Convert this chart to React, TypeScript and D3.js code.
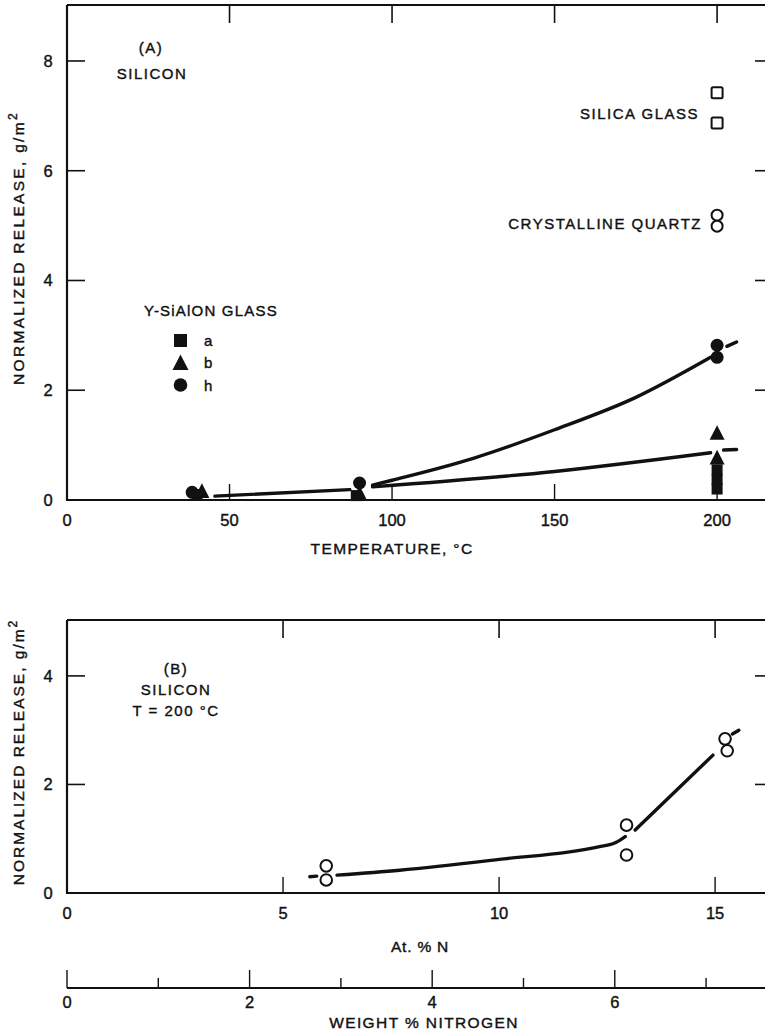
import React from 'react';
import * as d3 from 'd3';

// panel A: temperature series (Y-SiAlON glass a, b, h) and reference glasses
const tempA = [40, 89, 200, 200, 200];
const releaseA = [0.1, 0.08, 0.55, 0.37, 0.2];
const tempB = [41.5, 90, 200, 200];
const releaseB = [0.14, 0.1, 1.2, 0.75];
const tempH = [38.5, 90, 200, 200];
const releaseH = [0.14, 0.31, 2.82, 2.6];
const silicaGlass = [7.42, 6.87];
const quartz = [5.19, 4.99];
const refTemp = 200;

// hand-drawn fit curves, panel A
const curveH = [[94, 0.27], [100, 0.36], [125, 0.76], [150, 1.28], [175, 1.87], [198, 2.6]];
const curveHDash = [[203, 2.8], [206, 2.88]];
const lineLowA = [[45.5, 0.07], [87, 0.19]];
const lineLowB = [[94, 0.24], [150, 0.52], [198, 0.86]];
const lineLowDash = [[202, 0.91], [206, 0.92]];

// panel B: release vs at.% N at 200 C
const atN = [6.0, 6.0, 12.95, 12.95, 15.23, 15.28];
const releaseN = [0.5, 0.24, 1.25, 0.7, 2.84, 2.62];
const curveNDash1 = [[5.62, 0.3], [5.78, 0.31]];
const curveN1 = [[6.25, 0.33], [7.7, 0.42], [10, 0.62], [12.3, 0.85], [12.7, 0.93], [12.92, 1.04]];
const curveN2 = [[13.15, 1.16], [14.95, 2.54]];
const curveNDash2 = [[15.4, 2.93], [15.55, 3.0]];

const ticksTempX = [50, 100, 150, 200];
const labelsTempX = [0, 50, 100, 150, 200];
const ticksRelA = [2, 4, 6, 8];
const labelsRelA = [0, 2, 4, 6, 8];
const ticksN = [5, 10, 15];
const labelsN = [0, 5, 10, 15];
const ticksRelB = [2, 4];
const labelsRelB = [0, 2, 4];
const weightMajor = [0, 2, 4, 6];
const weightMinor = [1, 3, 5, 7];

const W = 765, H = 1033;
const left = 67, right = 773;

const xA = d3.scaleLinear().domain([0, 217.2]).range([left, right]);
const yA = d3.scaleLinear().domain([0, 9.02]).range([500, 5]);
const xB = d3.scaleLinear().domain([0, 16.34]).range([left, right]);
const yB = d3.scaleLinear().domain([0, 5.03]).range([893, 620]);
const xW = d3.scaleLinear().domain([0, 7.733]).range([left, right]);
const wY = 988;

const font = '"Liberation Sans", Arial, Helvetica, sans-serif';
const ink = '#111';

function Frame({ x, y, xt, yt }) {
  const [x0, x1] = x.range();
  const [y0, y1] = y.range();
  return (
    <g stroke={ink} fill="none">
      <path d={`M${x0},${y1}H${x1}M${x0},${y1}V${y0}H${x1}`} strokeWidth={2.2} />
      {xt.map(t => (
        <g key={'x' + t}>
          <line x1={x(t)} x2={x(t)} y1={y1} y2={y1 + 18} strokeWidth={1.6} />
          <line x1={x(t)} x2={x(t)} y1={y0} y2={y0 - 16} strokeWidth={1.4} />
        </g>
      ))}
      {yt.map(t => (
        <g key={'y' + t}>
          <line x1={x0} x2={x0 + 18} y1={y(t)} y2={y(t)} strokeWidth={1.6} />
          <line x1={x1} x2={x1 - 18} y1={y(t)} y2={y(t)} strokeWidth={1.6} />
        </g>
      ))}
    </g>
  );
}

const num = { fontFamily: font, fontSize: 16.5, fill: ink, stroke: ink, strokeWidth: 0.4 };

function Labels({ x, y, xl, yl }) {
  const y0 = y.range()[0];
  return (
    <g {...num}>
      {xl.map(t => (
        <text key={'x' + t} x={x(t)} y={y0 + 26} textAnchor="middle">{t}</text>
      ))}
      {yl.map(t => (
        <text key={'y' + t} x={48} y={y(t) + 6} textAnchor="middle">{t}</text>
      ))}
    </g>
  );
}

const tri = (cx, cy, s) =>
  `M${cx},${cy - s * 0.6}L${cx + s / 2},${cy + s * 0.38}L${cx - s / 2},${cy + s * 0.38}Z`;

export default function App() {
  const lineA = d3.line().x(d => xA(d[0])).y(d => yA(d[1])).curve(d3.curveMonotoneX);
  const lineB = d3.line().x(d => xB(d[0])).y(d => yB(d[1])).curve(d3.curveMonotoneX);
  const txt = { fontFamily: font, fill: ink, stroke: ink, strokeWidth: 0.4, fontSize: 15, letterSpacing: 1.5 };
  const cap = { fontFamily: font, fill: ink, stroke: ink, strokeWidth: 0.4, fontSize: 15.5, letterSpacing: 1.4 };

  return (
    <svg width={W} height={H} style={{ position: 'absolute', left: 0, top: 0, background: '#fff' }}>
      <rect width={W} height={H} fill="#fff" />

      {/* ---------- panel A ---------- */}
      <Frame x={xA} y={yA} xt={ticksTempX} yt={ticksRelA} />
      <Labels x={xA} y={yA} xl={labelsTempX} yl={labelsRelA} />

      <g fill="none" stroke={ink} strokeWidth={3.4} strokeLinecap="round">
        <path d={lineA(curveH)} />
        <path d={lineA(curveHDash)} />
        <path d={lineA(lineLowA)} />
        <path d={lineA(lineLowB)} />
        <path d={lineA(lineLowDash)} />
      </g>

      <g fill={ink}>
        {tempA.map((t, i) => (
          <rect key={'a' + i} x={xA(t) - 5.5} y={yA(releaseA[i]) - 5.5} width={11} height={11} />
        ))}
        {tempB.map((t, i) => (
          <path key={'b' + i} d={tri(xA(t), yA(releaseB[i]), 15)} />
        ))}
        {tempH.map((t, i) => (
          <circle key={'h' + i} cx={xA(t)} cy={yA(releaseH[i])} r={6.5} />
        ))}
      </g>

      <g fill="#fff" stroke={ink} strokeWidth={2}>
        {silicaGlass.map((v, i) => (
          <rect key={'s' + i} x={xA(refTemp) - 5.5} y={yA(v) - 5.5} width={11} height={11} rx={1.5} />
        ))}
        {quartz.map((v, i) => (
          <circle key={'q' + i} cx={xA(refTemp)} cy={yA(v)} r={5.5} />
        ))}
      </g>

      <text {...txt} x={151} y={53} textAnchor="middle">(A)</text>
      <text {...txt} x={152} y={79} textAnchor="middle">SILICON</text>
      <text {...txt} x={699} y={119} textAnchor="end">SILICA GLASS</text>
      <text {...txt} x={702} y={229} textAnchor="end">CRYSTALLINE QUARTZ</text>

      <text {...txt} x={211} y={316} textAnchor="middle" letterSpacing={1.2}>Y-SiAlON GLASS</text>
      <rect x={174} y={334} width={13} height={13} fill={ink} />
      <path d={tri(180.5, 364, 16)} fill={ink} />
      <circle cx={180.5} cy={385} r={6.8} fill={ink} />
      <text {...txt} x={204} y={346}>a</text>
      <text {...txt} x={204} y={368}>b</text>
      <text {...txt} x={204} y={391}>h</text>

      <text {...cap} x={xA(100)} y={554} textAnchor="middle">TEMPERATURE, °C</text>
      <text {...cap} transform="translate(24,248) rotate(-90)" textAnchor="middle" letterSpacing={2.3}>
        NORMALIZED RELEASE, g/m<tspan dy={-7} fontSize={12}>2</tspan>
      </text>

      {/* ---------- panel B ---------- */}
      <Frame x={xB} y={yB} xt={ticksN} yt={ticksRelB} />
      <Labels x={xB} y={yB} xl={labelsN} yl={labelsRelB} />

      <g fill="none" stroke={ink} strokeWidth={3.4} strokeLinecap="round">
        <path d={lineB(curveNDash1)} />
        <path d={lineB(curveN1)} />
        <path d={lineB(curveN2)} />
        <path d={lineB(curveNDash2)} />
      </g>
      <g fill="#fff" stroke={ink} strokeWidth={2}>
        {atN.map((n, i) => (
          <circle key={'n' + i} cx={xB(n)} cy={yB(releaseN[i])} r={5.8} />
        ))}
      </g>

      <text {...txt} x={176} y={674} textAnchor="middle">(B)</text>
      <text {...txt} x={176} y={695} textAnchor="middle">SILICON</text>
      <text {...txt} x={176} y={716} textAnchor="middle">T  =  200  °C</text>

      <text {...cap} x={420} y={952} textAnchor="middle" letterSpacing={0.8}>At. % N</text>
      <text {...cap} transform="translate(24,752) rotate(-90)" textAnchor="middle" letterSpacing={2}>
        NORMALIZED RELEASE, g/m<tspan dy={-7} fontSize={12}>2</tspan>
      </text>

      {/* ---------- weight % nitrogen scale ---------- */}
      <g stroke={ink}>
        <line x1={left} x2={W} y1={wY} y2={wY} strokeWidth={2} />
        {weightMajor.map(t => (
          <line key={'M' + t} x1={xW(t)} x2={xW(t)} y1={wY} y2={wY - 18} strokeWidth={1.4} />
        ))}
        {weightMinor.map(t => (
          <line key={'m' + t} x1={xW(t)} x2={xW(t)} y1={wY} y2={wY - 10} strokeWidth={1.4} />
        ))}
      </g>
      <g {...num}>
        {weightMajor.map(t => (
          <text key={'l' + t} x={xW(t)} y={wY + 20} textAnchor="middle">{t}</text>
        ))}
      </g>
      <text {...cap} x={424} y={1028} textAnchor="middle">WEIGHT % NITROGEN</text>
    </svg>
  );
}
